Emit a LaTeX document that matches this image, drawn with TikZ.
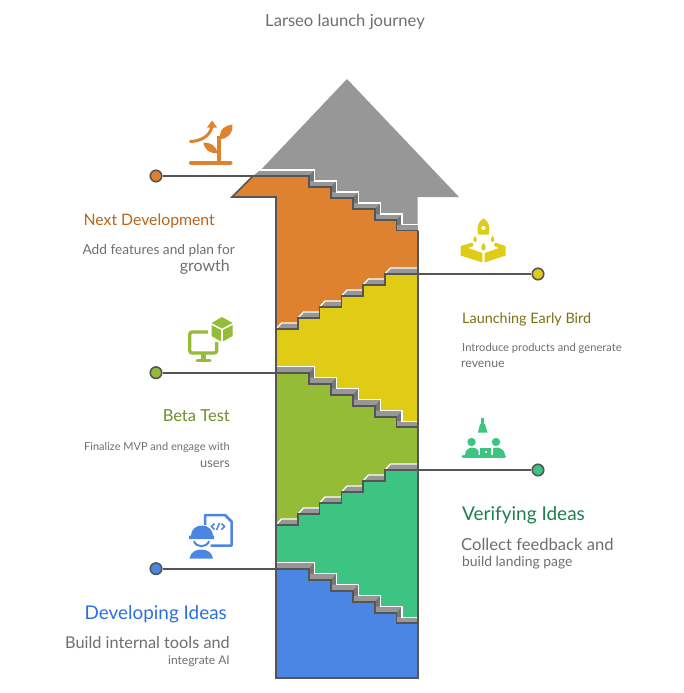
\documentclass[tikz,border=0pt]{standalone}
\usepackage{fontspec}
\setmainfont{Lato}
\definecolor{cOr}{HTML}{DF822F}
\definecolor{cYe}{HTML}{E0CC14}
\definecolor{cOl}{HTML}{94BC36}
\definecolor{cTe}{HTML}{3DC483}
\definecolor{cBl}{HTML}{4C86E5}
\definecolor{cDark}{HTML}{555555}
\definecolor{cGr}{HTML}{979797}
\definecolor{cRis}{HTML}{757575}
\definecolor{tOr}{HTML}{B9651C}
\definecolor{tYe}{HTML}{7C7012}
\definecolor{tOl}{HTML}{6C8F2A}
\definecolor{tTe}{HTML}{1F7D50}
\definecolor{tBl}{HTML}{2A70DC}
\definecolor{tGy}{HTML}{6E6E6E}
\tikzset{
  wallline/.style={draw=cDark,line width=1.6pt},
  hilite/.style={draw=white,line width=1.3pt},
  dotnode/.style={circle,draw=cDark,line width=1.6pt,minimum size=11.5pt,inner sep=0pt},
  link/.style={draw=cDark,line width=1.7pt},
  lbl/.style={inner sep=0pt,font=\fontsize{#1}{#1}\selectfont},
}
\newcommand\DownFwd[1]{(276,#1) -- (309,#1) -- (309,#1+11) -- (331,#1+11) -- (331,#1+22) -- (353,#1+22) -- (353,#1+33) -- (375,#1+33) -- (375,#1+44) -- (396.5,#1+44) -- (396.5,#1+54.5) -- (418,#1+54.5)}
\newcommand\UpRev[1]{(418,#1) -- (385,#1) -- (385,#1+11) -- (363,#1+11) -- (363,#1+22) -- (341.5,#1+22) -- (341.5,#1+33) -- (319.5,#1+33) -- (319.5,#1+44) -- (298,#1+44) -- (298,#1+55) -- (276,#1+55)}
% extruded bands on a descending stair
\newcommand\DownBand[1]{%
  \foreach \xa/\xb/\dy/\xe in {276/309/0/314.5,309/331/11/336.5,331/353/22/358.5,353/375/33/380.5,375/396.5/44/402}{
    \fill[cGr] (\xa,#1+\dy) -- (\xb,#1+\dy) -- (\xe,#1+\dy-6) -- (\xa,#1+\dy-6) -- cycle;
    \fill[cRis] (\xb,#1+\dy) -- (\xb,#1+\dy+11) -- (\xe,#1+\dy+5) -- (\xe,#1+\dy-6) -- cycle;
  }
  \fill[cGr] (396.5,#1+54.5) rectangle (418,#1+48.5);
  \draw[hilite] (276,#1-6) -- (314.5,#1-6) -- (314.5,#1+5) -- (336.5,#1+5) -- (336.5,#1+16) -- (358.5,#1+16) -- (358.5,#1+27) -- (380.5,#1+27) -- (380.5,#1+38) -- (402,#1+38) -- (402,#1+48.5) -- (418,#1+48.5);
}
% extruded bands on an ascending stair
\newcommand\UpBand[1]{%
  \foreach \xa/\xb/\dy in {276/298/55,298/319.5/44,319.5/341.5/33,341.5/363/22,363/385/11,385/418/0}{
    \pgfmathsetmacro\xc{\xa+5.5}
    \fill[cGr] (\xa,#1+\dy) -- (\xb,#1+\dy) -- (\xb,#1+\dy-6) -- (\xc,#1+\dy-6) -- cycle;
    \draw[hilite] (\xa,#1+\dy) -- (\xc,#1+\dy-6) -- (\xb,#1+\dy-6);
  }
}
\begin{document}
\begin{tikzpicture}[x=1pt,y=-1pt]
\useasboundingbox (0,0) rectangle (684,693);
% ---------- regions
\fill[cGr] (347,79) -- (459,197) -- (417.5,197) -- (417.5,228) -- (300,215) -- (253,176) -- (260.7,170) -- cycle;
\fill[cOr] (232,197) -- (253,176) -- \DownFwd{176} -- \UpRev{274} -- (276,197) -- cycle;
\fill[cYe] \DownFwd{372.7} -- \UpRev{274} -- cycle;
\fill[cOl] \DownFwd{372.7} -- \UpRev{470} -- cycle;
\fill[cTe] \DownFwd{568.7} -- \UpRev{470} -- cycle;
\fill[cBl] \DownFwd{568.7} -- (418,678) -- (276,678) -- cycle;
% ---------- extrusions
\DownBand{176}
\fill[cGr] (253,176) -- (260.7,170) -- (276,170) -- (276,176) -- cycle;
\draw[hilite] (259.5,170) -- (276,170);
\UpBand{274}
\DownBand{372.7}
\UpBand{470}
\DownBand{568.7}
% ---------- walls
\draw[wallline] (253,176) -- (232,197) -- (276,197) -- (276,678) -- (418,678) -- (418,230.5);
\draw[wallline] \DownFwd{176};
\draw[wallline] \UpRev{274};
\draw[wallline] \DownFwd{372.7};
\draw[wallline] \UpRev{470};
\draw[wallline] \DownFwd{568.7};
% ---------- connectors
\coordinate (e1) at (276,176);
\coordinate (e2) at (418,274);
\coordinate (e3) at (276,372.7);
\coordinate (e4) at (418,470);
\coordinate (e5) at (276,568.7);
\node[dotnode,fill=cOr] (d1) at (156,176) {};
\node[dotnode,fill=cYe] (d2) at (538,274) {};
\node[dotnode,fill=cOl] (d3) at (156,372.7) {};
\node[dotnode,fill=cTe] (d4) at (538,470) {};
\node[dotnode,fill=cBl] (d5) at (156,568.7) {};
\draw[link] (d1) -- (e1);
\draw[link] (d2) -- (e2);
\draw[link] (d3) -- (e3);
\draw[link] (d4) -- (e4);
\draw[link] (d5) -- (e5);
% ---------- texts
\node[lbl=16.6,text=tGy,anchor=base] (title) at (345,26.5) {Larseo launch journey};
\node[lbl=15.8,text=tOr,anchor=base east] (t1) at (215,225) {Next Development};
\node[lbl=13.7,text=tGy,anchor=base east] (t1a) at (235,254) {Add features and plan for};
\node[lbl=16,text=tGy,anchor=base east] (t1b) at (230,271) {growth};
\node[lbl=14.4,text=tYe,anchor=base west] (t2) at (462,323) {Launching Early Bird};
\node[lbl=11.15,text=tGy,anchor=base west] (t2a) at (462,351) {Introduce products and generate};
\node[lbl=12.3,text=tGy,anchor=base west] (t2b) at (461,367) {revenue};
\node[lbl=16.5,text=tOl,anchor=base east] (t3) at (230,421) {Beta Test};
\node[lbl=11,text=tGy,anchor=base east] (t3a) at (230,450) {Finalize MVP and engage with};
\node[lbl=12.8,text=tGy,anchor=base east] (t3b) at (230,467) {users};
\node[lbl=19,text=tTe,anchor=base west] (t4) at (462,520) {Verifying Ideas};
\node[lbl=16.6,text=tGy,anchor=base west] (t4a) at (461,550) {Collect feedback and};
\node[lbl=13.9,text=tGy,anchor=base west] (t4b) at (462,566) {build landing page};
\node[lbl=18.9,text=tBl,anchor=base east] (t5) at (227,619) {Developing Ideas};
\node[lbl=16.3,text=tGy,anchor=base east] (t5a) at (230,648) {Build internal tools and};
\node[lbl=12,text=tGy,anchor=base east] (t5b) at (230,664) {integrate AI};
% ---------- icon: sprout and arrow
\begin{scope}
\draw[cOr,line width=4pt,line cap=round] (191,162.5) -- (230.5,162.5);
\draw[cOr,line width=3.5pt] (219,162) -- (219,136);
\fill[cOr] (220,139) .. controls (219,128) and (226,125.5) .. (232.5,124.5) .. controls (233,133) and (228,139) .. (220,139) -- cycle;
\fill[cOr] (217.5,153) .. controls (216,145) and (210,142.5) .. (203.5,142.5) .. controls (204.5,150) and (210,154) .. (217.5,153) -- cycle;
\draw[cOr,line width=3pt,line cap=round] (190.5,141.5) .. controls (200,141) and (210,137) .. (212,126);
\fill[cOr] (212,120.5) -- (217,127.5) -- (207,127.5) -- cycle;
\end{scope}
% ---------- icon: rocket in a box
\begin{scope}
\fill[cYe,even odd rule] (483.5,218.5) .. controls (477,222) and (476.5,229) .. (478.5,234.5) -- (488.5,234.5) .. controls (490.5,229) and (490,222) .. (483.5,218.5) -- cycle (483.5,228) circle (2.3);
\fill[cYe] (475,236) .. controls (472.5,239) and (472.5,241.5) .. (475,242.5) .. controls (477.5,241.5) and (477.5,239) .. (475,236) -- cycle;
\fill[cYe] (492.5,236) .. controls (490,239) and (490,241.5) .. (492.5,242.5) .. controls (495,241.5) and (495,239) .. (492.5,236) -- cycle;
\fill[cYe] (483.5,243) .. controls (480.5,246) and (480.5,250) .. (483.5,250.5) .. controls (486.5,250) and (486.5,246) .. (483.5,243) -- cycle;
\fill[cYe] (460.5,246) -- (472.5,242.5) -- (473.5,246) -- (468,248) -- (482.3,253) -- (482.3,262.5) -- (460.5,255.5) -- cycle;
\fill[cYe] (505.5,246) -- (495,242.5) -- (494,246) -- (499,248) -- (484.7,253) -- (484.7,262.5) -- (505.5,255.5) -- cycle;
\end{scope}
% ---------- icon: monitor and cube
\begin{scope}
\draw[cOl,line width=3.4pt,rounded corners=2.5pt] (208,332) -- (189.7,332) -- (189.7,353) -- (216.7,353) -- (216.7,342);
\fill[cOl] (201,353) rectangle (206,359);
\draw[cOl,line width=3pt,line cap=round] (197,360) -- (210,360);
\fill[cOl] (211.5,323) -- (222,317) -- (232.5,323) -- (222,328.5) -- cycle;
\fill[cOl] (211.5,325) -- (221,330) -- (221,341.5) -- (211.5,336) -- cycle;
\fill[cOl] (223,330) -- (232.5,325) -- (232.5,336) -- (223,341.5) -- cycle;
\end{scope}
% ---------- icon: team at a table
\begin{scope}
\draw[cTe,line width=3pt] (482.5,418) -- (482.5,426);
\fill[cTe] (480,424) -- (485,424) -- (487.5,432.5) -- (478,432.5) -- cycle;
\fill[cTe] (471.5,442) circle (4.2);
\fill[cTe] (496,442) circle (4.2);
\fill[cTe] (465,455) .. controls (465,449) and (470,447.5) .. (472,447.5) .. controls (475,447.5) and (478,449) .. (478.5,451) -- (478.5,455) -- cycle;
\fill[cTe] (505,455) .. controls (505,449) and (499,447.5) .. (496,447.5) .. controls (494,447.5) and (493,448) .. (493,449) -- (493,455) -- cycle;
\fill[cTe,even odd rule] (480,448) rectangle (491,455) (485,451) rectangle (487,453);
\draw[cTe,line width=3pt,line cap=round] (463,456.5) -- (504.5,456.5);
\end{scope}
% ---------- icon: developer and code sheet
\begin{scope}
\draw[cBl,line width=2.5pt,line join=round] (205,525) -- (205,515) -- (225,515) -- (231.5,521.5) -- (231.5,545.5) -- (210.5,545.5);
\draw[cBl,line width=1.5pt] (214.5,523.5) -- (211.5,526.5) -- (214.5,529.5);
\draw[cBl,line width=1.5pt] (221.5,523.5) -- (224.5,526.5) -- (221.5,529.5);
\draw[cBl,line width=1.5pt] (219.5,523) -- (216.5,530);
\fill[cBl] (189,535.5) -- (191,535.5) .. controls (191,529.5) and (196,525.5) .. (202,525.5) .. controls (208,525.5) and (213,530) .. (213,535.5) -- (214,535.5) -- (214,539) -- (189,539) -- cycle;
\draw[cBl,line width=2pt] (194,541) .. controls (196,548) and (207,548) .. (209,541);
\fill[cBl] (189.5,558.5) .. controls (190.5,552) and (196,549.5) .. (201,549.5) .. controls (207,549.5) and (212,552) .. (213,558.5) -- cycle;
\end{scope}
\end{tikzpicture}
\end{document}
